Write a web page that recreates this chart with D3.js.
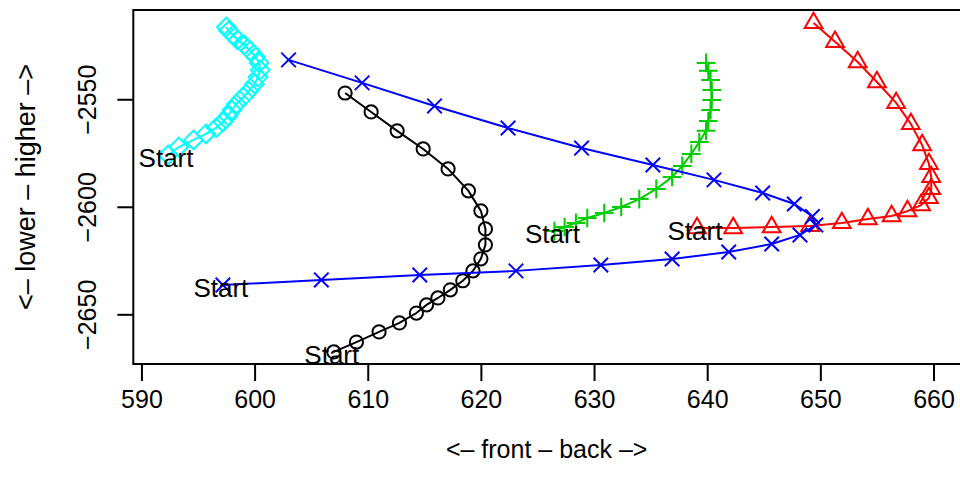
<!DOCTYPE html>
<html><head><meta charset="utf-8">
<script src="https://cdn.jsdelivr.net/npm/d3@7/dist/d3.min.js"></script>
<style>
body{margin:0;background:#fff}
svg{display:block}
text{font-family:"Liberation Sans",Arial,Helvetica,sans-serif;fill:#000}
</style>
</head><body>
<svg id="chart" width="960" height="490"></svg>
<script>
// ---- data ----
const xTicks = [590, 600, 610, 620, 630, 640, 650, 660];
const yTicks = [-2650, -2600, -2550];
const xTitle = "<\u2013 front \u2013 back \u2013>";
const yTitle = "<\u2013 lower \u2013 higher \u2013>";
const startLabel = "Start";

const blackX = [607.0, 609.0, 611.0, 612.8, 614.3, 615.2, 616.2, 617.3, 618.4, 619.3, 620.0, 620.4, 620.4, 620.0, 618.9, 617.1, 614.9, 612.6, 610.3, 608.0];
const blackY = [-2667.5, -2662.9, -2658.2, -2654.0, -2649.4, -2645.6, -2642.4, -2638.6, -2634.4, -2629.8, -2624.2, -2617.7, -2610.3, -2601.9, -2592.6, -2582.4, -2573.1, -2564.7, -2555.9, -2547.1];

const redX = [639.1, 642.3, 645.7, 649.1, 651.9, 654.2, 656.3, 657.7, 658.9, 659.6, 659.8, 659.8, 659.6, 659.0, 658.0, 656.7, 655.0, 653.3, 651.3, 649.4];
const redY = [-2609.9, -2609.9, -2609.4, -2608.9, -2607.5, -2605.7, -2604.3, -2602.0, -2599.2, -2595.9, -2591.7, -2586.1, -2580.1, -2571.3, -2561.5, -2551.7, -2542.0, -2532.7, -2523.3, -2514.5];

const greenX = [626.5, 627.4, 628.4, 629.4, 630.9, 632.4, 634.0, 635.5, 636.9, 637.8, 638.6, 639.3, 639.9, 640.1, 640.3, 640.4, 640.4, 640.3, 640.1, 639.9];
const greenY = [-2611.3, -2609.4, -2607.5, -2605.2, -2602.9, -2600.1, -2596.4, -2591.7, -2586.1, -2581.0, -2575.4, -2569.9, -2564.7, -2560.1, -2555.0, -2550.3, -2545.7, -2541.0, -2536.8, -2533.1];

const blueX = [597.2, 605.9, 614.6, 623.1, 630.6, 636.9, 641.9, 645.7, 648.2, 649.6, 649.3, 647.7, 644.9, 640.6, 635.2, 628.9, 622.4, 615.9, 609.5, 603.0];
const blueY = [-2636.4, -2634.0, -2631.7, -2629.8, -2627.1, -2624.3, -2621.0, -2617.3, -2613.1, -2608.5, -2604.5, -2598.7, -2593.6, -2587.5, -2580.6, -2572.7, -2563.4, -2553.1, -2542.4, -2531.7];

const cyanX = [592.35, 593.3, 594.6, 595.7, 596.6, 597.2, 597.65, 598.0, 598.4, 599.0, 599.5, 600.0, 600.3, 600.5, 600.4, 600.1, 599.6, 599.1, 598.5, 598.1, 597.7, 597.5];
const cyanY = [-2575.9, -2572.2, -2568.9, -2566.1, -2563.3, -2560.6, -2557.8, -2555.0, -2552.2, -2549.0, -2546.2, -2542.9, -2539.7, -2536.4, -2533.1, -2530.3, -2527.5, -2524.8, -2522.4, -2520.1, -2518.2, -2516.4];

const seriesNames = ["black", "red", "green", "blue", "cyan"];
const seriesColors = ["#000000", "#FF0000", "#00CD00", "#0000FF", "#00FFFF"];
const seriesSymbols = ["circle", "triangle", "plus", "cross", "diamond"];
const seriesXs = [blackX, redX, greenX, blueX, cyanX];
const seriesYs = [blackY, redY, greenY, blueY, cyanY];

// ---- layout ----
const plotL = 133.3, plotR = 962, plotT = 10, plotB = 364;
const svg = d3.select("#chart");
const x = d3.scaleLinear().domain([589.28, 662.52]).range([plotL, plotR]);
const y = d3.scaleLinear().domain([-2673.1, -2508.5]).range([plotB, plotT]);

const R = 6.6;
function symbolPath(type) {
  const p = d3.path();
  if (type === "circle") {
    p.moveTo(R, 0); p.arc(0, 0, R, 0, 2 * Math.PI);
  } else if (type === "triangle") {
    const r = 1.5551 * R;
    p.moveTo(0, -r); p.lineTo(0.866 * r, r / 2); p.lineTo(-0.866 * r, r / 2); p.closePath();
  } else if (type === "plus") {
    const c = Math.SQRT2 * R;
    p.moveTo(-c, 0); p.lineTo(c, 0); p.moveTo(0, -c); p.lineTo(0, c);
  } else if (type === "cross") {
    const c = 1.1 * R;
    p.moveTo(-c, -c); p.lineTo(c, c); p.moveTo(-c, c); p.lineTo(c, -c);
  } else if (type === "diamond") {
    const c = Math.SQRT2 * R;
    p.moveTo(0, -c); p.lineTo(c, 0); p.lineTo(0, c); p.lineTo(-c, 0); p.closePath();
  }
  return p.toString();
}

const data = seriesNames.map((n, i) => ({
  name: n, color: seriesColors[i], sym: seriesSymbols[i],
  pts: seriesXs[i].map((v, j) => [v, seriesYs[i][j]])
}));

const line = d3.line().x(d => x(d[0])).y(d => y(d[1]));
const g = svg.append("g");
data.forEach(s => {
  g.append("path").attr("d", line(s.pts)).attr("fill", "none")
    .attr("stroke", s.color).attr("stroke-width", 2);
  g.selectAll(null).data(s.pts).enter().append("path")
    .attr("transform", d => `translate(${x(d[0])},${y(d[1])})`)
    .attr("d", symbolPath(s.sym)).attr("fill", "none")
    .attr("stroke", s.color).attr("stroke-width", 2);
});

// Start labels at first point of each series
data.forEach(s => {
  svg.append("text").attr("x", x(s.pts[0][0]) - 2).attr("y", y(s.pts[0][1]) + 3)
    .attr("text-anchor", "middle").attr("dominant-baseline", "central")
    .attr("font-size", 26).text(startLabel);
});

// box
svg.append("rect").attr("x", plotL).attr("y", plotT).attr("width", plotR - plotL).attr("height", plotB - plotT)
  .attr("fill", "none").attr("stroke", "#000").attr("stroke-width", 2);

// x axis
const xa = svg.append("g").attr("transform", `translate(0,${plotB})`)
  .call(d3.axisBottom(x).tickValues(xTicks).tickSize(17).tickPadding(9).tickFormat(d3.format("d")));
xa.select(".domain").remove();
xa.selectAll("line").attr("stroke", "#000").attr("stroke-width", 2);
xa.selectAll("text").attr("font-size", 25).attr("font-family", "Liberation Sans, Arial, sans-serif");

// y axis
const ya = svg.append("g").attr("transform", `translate(${plotL},0)`)
  .call(d3.axisLeft(y).tickValues(yTicks).tickSize(16).tickFormat(d => d3.format("d")(d).replace("-", "\u2212")));
ya.select(".domain").remove();
ya.selectAll("line").attr("stroke", "#000").attr("stroke-width", 2);
ya.selectAll("text").attr("font-size", 25).attr("font-family", "Liberation Sans, Arial, sans-serif")
  .attr("transform", `translate(${96 - plotL},0) rotate(-90)`)
  .attr("x", 0).attr("y", 0).attr("dy", 0).attr("text-anchor", "middle");

// titles
svg.append("text").attr("x", (plotL + 960) / 2).attr("y", 458).attr("text-anchor", "middle")
  .attr("font-size", 25).text(xTitle);
svg.append("text").attr("transform", `translate(35,${(plotT + plotB) / 2}) rotate(-90)`)
  .attr("text-anchor", "middle").attr("font-size", 27).text(yTitle);
</script>
</body></html>
